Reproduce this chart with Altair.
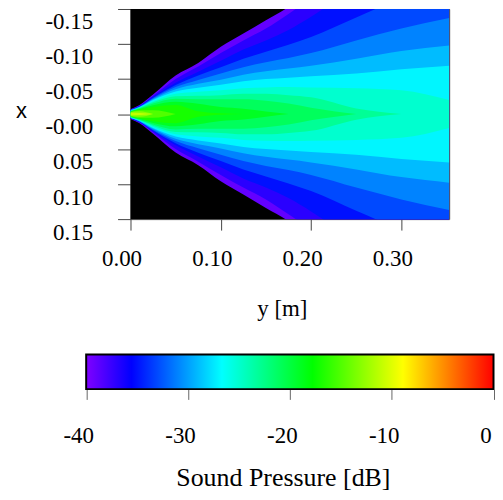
import json
import altair as alt
import pandas as pd

# ---------------- data ----------------
# positions along the propagation axis, "y [m]"
y_samples = [0.0, 0.01, 0.025, 0.05, 0.075, 0.1, 0.125, 0.15, 0.175, 0.2, 0.25, 0.3, 0.353]

# contour levels (dB) of the sound-pressure field
levels = [-40, -38, -36, -34, -32, -30, -28, -26, -24, -22, -20, -18, -16, -14, -12]

# half-width |x| [m] of the region at or above each level, at each y sample
hw_40 = [0.007, 0.013, 0.028, 0.055, 0.073, 0.096, 0.115, 0.134, 0.153, 0.18, 0.2, 0.2, 0.2]
hw_38 = [0.0066, 0.012, 0.026, 0.050, 0.068, 0.087, 0.105, 0.122, 0.143, 0.165, 0.2, 0.2, 0.2]
hw_36 = [0.0063, 0.0115, 0.0246, 0.0447, 0.0605, 0.076, 0.092, 0.105, 0.12, 0.139, 0.18, 0.2, 0.2]
hw_34 = [0.006, 0.011, 0.0234, 0.0416, 0.0552, 0.067, 0.079, 0.089, 0.099, 0.11, 0.138, 0.165, 0.185]
hw_32 = [0.0057, 0.0106, 0.0223, 0.0385, 0.0487, 0.058, 0.067, 0.074, 0.08, 0.087, 0.105, 0.122, 0.137]
hw_30 = [0.0054, 0.0101, 0.0211, 0.0354, 0.0432, 0.049, 0.056, 0.061, 0.065, 0.069, 0.079, 0.09, 0.098]
hw_28 = [0.0051, 0.0097, 0.020, 0.0322, 0.0376, 0.042, 0.047, 0.05, 0.052, 0.054, 0.058, 0.064, 0.069]
hw_26 = [0.0048, 0.0092, 0.0183, 0.0289, 0.0319, 0.034, 0.037, 0.038, 0.0385, 0.038, 0.037, 0.034, 0.02]
hw_24 = [0.0045, 0.0086, 0.0167, 0.0255, 0.026, 0.027, 0.029, 0.029, 0.027, 0.024, 0.008, 0.0, 0.0]
hw_22 = [0.0042, 0.008, 0.015, 0.022, 0.021, 0.021, 0.021, 0.019, 0.015, 0.009, 0.0, 0.0, 0.0]
hw_20 = [0.0038, 0.0072, 0.0126, 0.0175, 0.0147, 0.010, 0.0077, 0.0038, 0.0, 0.0, 0.0, 0.0, 0.0]
hw_18 = [0.0034, 0.0064, 0.0102, 0.013, 0.004, 0.001, 0.0, 0.0, 0.0, 0.0, 0.0, 0.0, 0.0]
hw_16 = [0.003, 0.0053, 0.0054, 0.0, 0.0, 0.0, 0.0, 0.0, 0.0, 0.0, 0.0, 0.0, 0.0]
hw_14 = [0.0025, 0.004, 0.0, 0.0, 0.0, 0.0, 0.0, 0.0, 0.0, 0.0, 0.0, 0.0, 0.0]
hw_12 = [0.0018, 0.0015, 0.0, 0.0, 0.0, 0.0, 0.0, 0.0, 0.0, 0.0, 0.0, 0.0, 0.0]
hw_lists = [hw_40, hw_38, hw_36, hw_34, hw_32, hw_30, hw_28, hw_26,
            hw_24, hw_22, hw_20, hw_18, hw_16, hw_14, hw_12]

# axes
x_domain = [0.0, 0.353]
y_domain = [-0.15, 0.15]
x_ticks = [0.0, 0.1, 0.2, 0.3]
x_tick_labels = ["0.00", "0.10", "0.20", "0.30"]
y_ticks = [-0.15, -0.10, -0.05, 0.0, 0.05, 0.10, 0.15]
y_tick_labels = ["-0.15", "-0.10", "-0.05", "-0.00", "0.05", "0.10", "0.15"]

# colour bar
cbar_ticks = [-40, -30, -20, -10, 0]
cbar_labels = ["-40", "-30", "-20", "-10", "0"]
color_domain = [-40, -35.56, -26.67, -17.78, -8.89, 0]
color_range = ["#8000ff", "#0000ff", "#00ffff", "#00ff00", "#ffff00", "#ff0000"]

# ---------------- tables ----------------
rows = []
for lev, hw in zip(levels, hw_lists):
    for ys, w in zip(y_samples, hw):
        rows.append({"level": lev, "band": lev + 1, "ym": ys, "lo": -w, "hi": w})
        if w == 0:
            break
df = pd.DataFrame(rows)

bg_df = pd.DataFrame({"y0": [x_domain[0]], "y1": [x_domain[1]],
                      "x0": [y_domain[0]], "x1": [y_domain[1]]})
cbar_df = pd.DataFrame({"lo": [cbar_ticks[0]], "hi": [cbar_ticks[-1]], "b0": [0], "b1": [1]})

SERIF = "Liberation Serif"
SANS = "Liberation Sans"

xscale = alt.Scale(domain=x_domain, nice=False, zero=False)
yscale = alt.Scale(domain=y_domain, reverse=True, nice=False, zero=False)
cscale = alt.Scale(domain=color_domain, range=color_range, interpolate="rgb", clamp=True)

xaxis = alt.Axis(
    values=x_ticks,
    labelExpr=f"{json.dumps(x_tick_labels)}[round(datum.value / 0.1)]",
    title="y [m]", domain=False, grid=False,
    tickSize=11, tickColor="#444", labelFlush=False, labelOverlap=False,
    labelFont=SERIF, labelFontSize=23, labelColor="black", labelAngle=0,
    labelBaseline="alphabetic", labelPadding=36, labelOffset=-9,
    titleFont=SERIF, titleFontSize=23, titleFontWeight="normal", titleColor="black",
    titleX=152, titleY=97, titleAlign="center", titleBaseline="alphabetic",
)
yaxis = alt.Axis(
    values=y_ticks,
    labelExpr=f"{json.dumps(y_tick_labels)}[round((datum.value + 0.15) / 0.05)]",
    title="x", domain=False, grid=False,
    tickSize=13, tickColor="#444", labelFlush=False, labelOverlap=False,
    labelFont=SERIF, labelFontSize=23, labelColor="black",
    labelAlign="right", labelBaseline="middle", labelPadding=25, labelOffset=13,
    titleFont=SANS, titleFontSize=22, titleFontWeight="normal", titleColor="black",
    titleAngle=0, titleX=-110, titleY=109, titleAlign="center", titleBaseline="alphabetic",
)

bg = alt.Chart(bg_df).mark_rect(color="black").encode(
    x=alt.X("y0:Q", scale=xscale, axis=xaxis),
    x2="y1:Q",
    y=alt.Y("x0:Q", scale=yscale, axis=yaxis),
    y2="x1:Q",
)

areas = []
for lev in levels:
    areas.append(
        alt.Chart(df)
        .transform_filter(alt.datum.level == lev)
        .mark_area(interpolate="monotone", clip=True)
        .encode(
            x=alt.X("ym:Q", scale=xscale, axis=xaxis),
            y=alt.Y("lo:Q", scale=yscale, axis=yaxis),
            y2="hi:Q",
            color=alt.Color("band:Q", scale=cscale, legend=None),
        )
    )

heat = alt.layer(bg, *areas)

grad = alt.LinearGradient(
    gradient="linear",
    stops=[alt.GradientStop(offset=(d - color_domain[0]) / (color_domain[-1] - color_domain[0]), color=c)
           for d, c in zip(color_domain, color_range)],
    x1=0, x2=1, y1=0, y2=0,
)

cbar_axis = alt.Axis(
    orient="bottom", offset=171,
    values=cbar_ticks,
    labelExpr=f"{json.dumps(cbar_labels)}[round((datum.value + 40) / 10)]",
    title="Sound Pressure [dB]", domain=False, grid=False,
    tickSize=10, tickColor="#666", labelFlush=False, labelOverlap=False,
    labelFont=SERIF, labelFontSize=23, labelColor="black", labelAngle=0,
    labelBaseline="alphabetic", labelPadding=43, labelOffset=-8,
    titleFont=SERIF, titleFontSize=26, titleFontWeight="normal", titleColor="black",
    titleX=153, titleY=96, titleAlign="center", titleBaseline="alphabetic",
)

cbar = alt.Chart(cbar_df).mark_rect(fill=grad, stroke="black", strokeWidth=2).encode(
    x=alt.X("lo:Q", scale=alt.Scale(domain=[cbar_ticks[0], cbar_ticks[-1]], range=[-44.5, 364.5],
                                    nice=False, zero=False), axis=cbar_axis),
    x2="hi:Q",
    y=alt.Y("b0:Q", scale=alt.Scale(domain=[0, 1], range=[381.7, 347]), axis=None),
    y2="b1:Q",
)

chart = (
    alt.layer(heat, cbar)
    .resolve_scale(x="independent", y="independent")
    .properties(
        width=320, height=211,
        autosize=alt.AutoSizeParams(type="none"),
        padding={"left": 123, "top": 0, "right": 46, "bottom": 273},
    )
    .configure_view(stroke="#555", strokeWidth=1)
)

chart.save("out.html", embed_options={"renderer": "svg", "actions": False})
